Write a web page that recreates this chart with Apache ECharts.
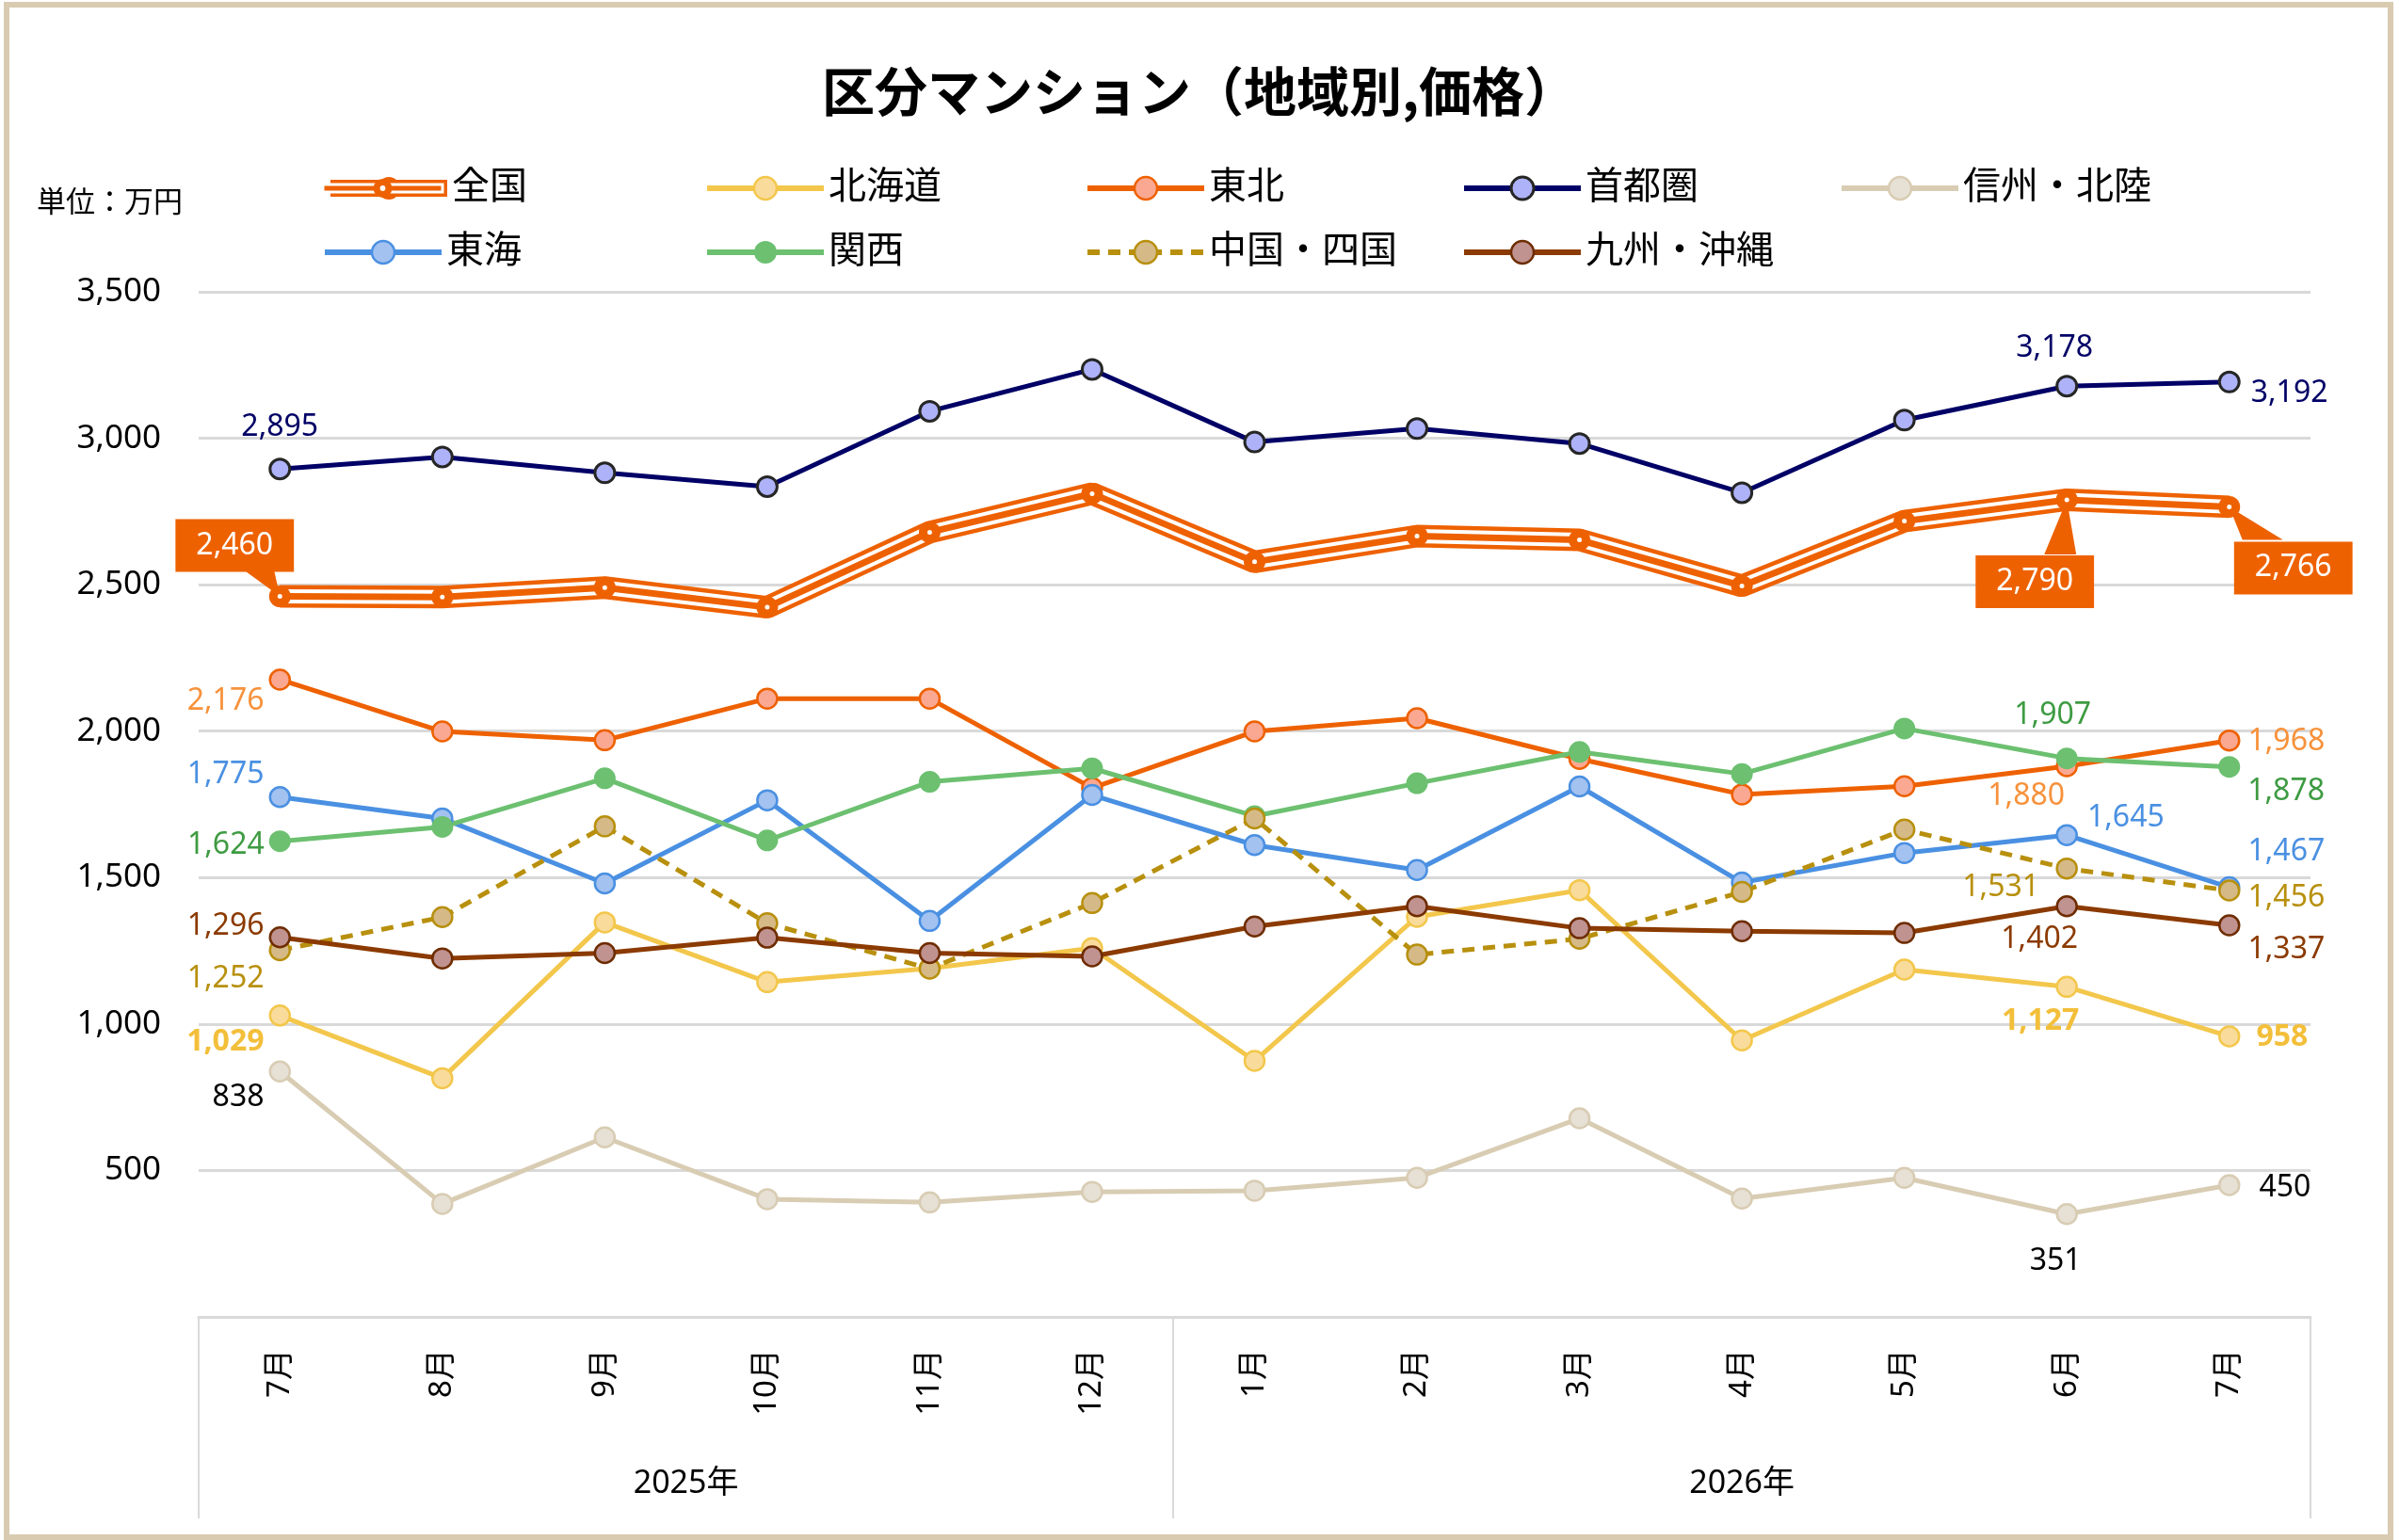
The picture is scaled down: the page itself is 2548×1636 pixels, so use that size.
<!DOCTYPE html>
<html><head><meta charset="utf-8">
<script src="https://cdn.jsdelivr.net/npm/echarts@6/dist/echarts.min.js"></script>
<style>html,body{margin:0;padding:0;background:#fff}#c{width:2548px;height:1636px}</style>
</head><body><div id="c"></div>
<script>
// ---------- data ----------
const months = ['7月','8月','9月','10月','11月','12月','1月','2月','3月','4月','5月','6月','7月'];
const years = ['2025年','2026年'];
const monthsPerYear = [6, 7];
const yTicks = [0, 500, 1000, 1500, 2000, 2500, 3000, 3500];

const zenkoku  = [2460, 2458, 2490, 2423, 2679, 2811, 2578, 2666, 2653, 2496, 2717, 2790, 2766];
const hokkaido = [1029, 815, 1347, 1143, 1190, 1259, 874, 1366, 1457, 944, 1186, 1127, 958];
const tohoku   = [2176, 1999, 1969, 2111, 2111, 1806, 1999, 2044, 1905, 1784, 1812, 1880, 1968];
const shutoken = [2895, 2936, 2882, 2835, 3092, 3235, 2987, 3033, 2982, 2814, 3062, 3178, 3192];
const shinshu  = [838, 386, 613, 402, 391, 427, 431, 475, 678, 404, 475, 351, 450];
const tokai    = [1775, 1702, 1480, 1764, 1352, 1782, 1611, 1526, 1811, 1483, 1584, 1645, 1467];
const kansai   = [1624, 1673, 1839, 1627, 1827, 1873, 1710, 1822, 1929, 1854, 2009, 1907, 1878];
const chugoku  = [1252, 1365, 1675, 1344, 1189, 1413, 1702, 1237, 1291, 1451, 1664, 1531, 1456];
const kyushu   = [1296, 1224, 1242, 1295, 1242, 1231, 1333, 1402, 1327, 1317, 1311, 1402, 1337];

// ---------- styles ----------
const FONT = '"Noto Sans", "Noto Sans CJK JP", sans-serif';
const ORANGE = '#EE6100';
const styles = {
  '北海道':   {values: hokkaido, line:'#F3C74C', fill:'#F9DC9C', border:'#F3C74C', lbl:'#F3BF3A', bold:true},
  '東北':     {values: tohoku,   line:'#EE6100', fill:'#FBA893', border:'#EE6100', lbl:'#F7923C'},
  '首都圏':   {values: shutoken, line:'#000066', fill:'#AEB2F8', border:'#262626', bw:3, lbl:'#000066'},
  '信州・北陸': {values: shinshu, line:'#D8CCB3', fill:'#E6E0D5', border:'#D8CCB3', lbl:'#000000'},
  '東海':     {values: tokai,    line:'#4A90E2', fill:'#A3C2F0', border:'#4A90E2', lbl:'#4A90E2'},
  '関西':     {values: kansai,   line:'#6CC070', fill:'#6CC070', border:'#6CC070', bw:0, size:23, lbl:'#3E9B42'},
  '中国・四国': {values: chugoku, line:'#B8900E', fill:'#D5BA88', border:'#B8900E', dash:[13,9], lbl:'#B8900E'},
  '九州・沖縄': {values: kyushu,  line:'#8B3A00', fill:'#C09290', border:'#6E2C00', lbl:'#8B3A00'}
};
const labelSpots = {
  '首都圏': {0:{p:'inside',dx:0,dy:-44}, 11:{p:'inside',dx:-13,dy:-40}, 12:{p:'right',dx:3,dy:12}},
  '東北': {0:{p:'left',dy:23}, 11:{p:'inside',dx:-43,dy:32}, 12:{p:'right',dy:1}},
  '東海': {0:{p:'left',dy:-24}, 11:{p:'right',dx:2,dy:-18}, 12:{p:'right',dy:-38}},
  '関西': {0:{p:'left',dy:4}, 11:{p:'inside',dx:-15,dy:-46}, 12:{p:'right',dy:26}},
  '中国・四国': {0:{p:'left',dy:30}, 11:{p:'inside',dx:-70,dy:20}, 12:{p:'right',dy:8}},
  '九州・沖縄': {0:{p:'left',dy:-12}, 11:{p:'inside',dx:-29,dy:35}, 12:{p:'right',dy:26}},
  '北海道': {0:{p:'left',dy:28}, 11:{p:'inside',dx:-28,dy:37}, 12:{p:'right',dx:9,dy:1}},
  '信州・北陸': {0:{p:'left',dy:28}, 11:{p:'inside',dx:-12,dy:50}, 12:{p:'right',dx:12,dy:3}},
  '全国c': {
    0:  {p:'inside',dx:-48,dy:-54,box:true, wedge:[[-37,-27],[-6,-27]]},
    11: {p:'inside',dx:-34,dy:87, box:true, wedge:[[-24,58],[10,58]]},
    12: {p:'inside',dx:68, dy:65, box:true, wedge:[[14,35],[57,35]]}
  }
};
const fmt = v => Number(v).toLocaleString('en-US');

function withLabels(name, values) {
  const spots = labelSpots[name] || {};
  return values.map((v, i) => {
    const s = spots[i];
    if (!s) return v;
    const lab = {show: true, position: s.p, distance: s.p === 'left' ? 5 : 8, offset: [s.dx || 0, s.dy || 0]};
    if (s.box) Object.assign(lab, {backgroundColor: ORANGE, color: '#fff', padding: [12, 22], fontSize: 32});
    return {value: v, label: lab};
  });
}

const pointerSpots = labelSpots['全国c'];
const series = [
  {name:'全国ptr', type:'custom', silent:true,
   data: Object.keys(pointerSpots).map(k => [Number(k), zenkoku[Number(k)]]),
   encode: {x: 0, y: 1},
   renderItem: (params, api) => {
     const idx = api.value(0);
     const p = api.coord([idx, api.value(1)]);
     const w = pointerSpots[idx].wedge;
     return {type: 'polygon', shape: {points: [[p[0], p[1]], [p[0] + w[0][0], p[1] + w[0][1]], [p[0] + w[1][0], p[1] + w[1][1]]]},
             style: {fill: ORANGE}};
   }},
  {name:'全国', type:'line', data: zenkoku, symbol:'none', lineStyle:{color:ORANGE, width:24}, itemStyle:{color:ORANGE}},
  {name:'全国w', type:'line', data: zenkoku, symbol:'none', lineStyle:{color:'#fff', width:15}, itemStyle:{color:'#fff'}},
  {name:'全国c', type:'line', data: withLabels('全国c', zenkoku), symbol:'circle', symbolSize:14, showAllSymbol:true,
   lineStyle:{color:ORANGE, width:7}, itemStyle:{color:'#fff', borderColor:ORANGE, borderWidth:9},
   label:{show:false, formatter: p => fmt(p.value), fontFamily: FONT, fontSize: 32, color:'#fff'}}
];
Object.keys(styles).forEach(name => {
  const s = styles[name];
  series.push({
    name, type:'line', data: withLabels(name, s.values), symbol:'circle', symbolSize: s.size || 21, showAllSymbol:true,
    lineStyle:{color:s.line, width:5, type: s.dash || 'solid'},
    itemStyle:{color:s.fill, borderColor:s.border, borderWidth: s.bw != null ? s.bw : 2.5},
    label:{show:false, formatter: p => fmt(p.value), fontFamily: FONT, fontSize: 32, color: s.lbl, fontWeight: s.bold ? 'bold' : 'normal'}
  });
});
series.forEach(s => { s.animation = false; s.emphasis = {disabled: true}; s.z = 2; });

// ---------- legend layout ----------
const legendOrder = ['全国','北海道','東北','首都圏','信州・北陸','東海','関西','中国・四国','九州・沖縄'];
const legendCols = [342, 748, 1152, 1552, 1953];
const legendRows = [200, 268];
function mkLegend(name, left, cy, extra) {
  return Object.assign({
    data: [name], left, top: cy - 20, orient: 'horizontal', padding: 0, itemWidth: 124, itemHeight: 30,
    selectedMode: false, textStyle: {fontSize: 40, fontFamily: FONT, color: '#000'},
    lineStyle: {width: 6}, itemStyle: {borderWidth: 2.5}
  }, extra || {});
}
const legends = [];
legendOrder.forEach((name, i) => {
  const col = legendCols[i % 5], row = legendRows[Math.floor(i / 5)];
  if (name === '全国') {
    legends.push(mkLegend('全国', col, row, {lineStyle:{width:18}, itemStyle:{borderWidth:0}, z: 4}));
    legends.push(mkLegend('全国w', col, row, {lineStyle:{width:11}, itemHeight: 10, itemStyle:{borderWidth:0}, formatter: () => ' ', z: 5}));
    legends.push(mkLegend('全国c', col, row, {lineStyle:{width:5}, itemHeight: 16, itemStyle:{borderWidth:7}, formatter: () => ' ', z: 6}));
  } else {
    const st = styles[name];
    legends.push(mkLegend(name, col, row, {itemStyle:{borderWidth: st.bw != null ? st.bw : 2.5}}));
  }
});

// ---------- x axis grouping ----------
const groupStarts = [];
const yearCenters = [];
monthsPerYear.reduce((start, n) => { groupStarts.push(start); yearCenters.push(start + (n - 1) / 2); return start + n; }, 0);

const chart = echarts.init(document.getElementById('c'), null, {renderer: 'canvas'});
chart.setOption({
  animation: false,
  backgroundColor: '#fff',
  title: [
    {text: '区分マンション（地域別,価格）', left: 'center', top: 69, padding: 0,
     textStyle: {fontSize: 56, fontWeight: 'bold', fontFamily: '"Noto Sans CJK JP", sans-serif', color: '#000'}},
    {text: '単位：万円', left: 39, top: 198, padding: 0,
     textStyle: {fontSize: 31, fontWeight: 'normal', fontFamily: '"Noto Sans CJK JP", sans-serif', color: '#000'}}
  ],
  legend: legends,
  grid: {left: 211, right: 94, top: 310, bottom: 237, containLabel: false},
  xAxis: [
    {type: 'category', data: months, boundaryGap: true,
     axisLine: {show: true, lineStyle: {color: '#D9D9D9', width: 3}},
     axisTick: {show: true, interval: (i) => groupStarts.indexOf(i) >= 0, length: 214, lineStyle: {color: '#D9D9D9', width: 2}},
     axisLabel: {interval: 0, rotate: 90, margin: 34, fontSize: 33, fontFamily: FONT, color: '#000'},
     splitLine: {show: false}},
    {type: 'value', min: -0.5, max: months.length - 0.5, interval: 0.5, position: 'bottom',
     axisLine: {show: false}, axisTick: {show: false}, splitLine: {show: false},
     axisLabel: {showMinLabel: true, showMaxLabel: true,
       formatter: v => { const k = yearCenters.findIndex(c => Math.abs(c - v) < 1e-6); return k >= 0 ? years[k] : ''; },
       margin: 160, fontSize: 34, fontFamily: FONT, color: '#000'}}
  ],
  yAxis: {type: 'value', min: yTicks[0], max: yTicks[yTicks.length - 1], interval: yTicks[1] - yTicks[0],
    axisLine: {show: false}, axisTick: {show: false},
    splitLine: {lineStyle: {color: '#D9D9D9', width: 3}},
    axisLabel: {formatter: v => v === 0 ? '' : fmt(v), fontSize: 35, fontFamily: FONT, color: '#000', margin: 40}},
  graphic: [{type: 'rect', silent: true, z: 100, shape: {x: 7, y: 5, width: 2532, height: 1628},
    style: {fill: 'none', stroke: '#D8CBB0', lineWidth: 6}}],
  series
});
</script></body></html>
